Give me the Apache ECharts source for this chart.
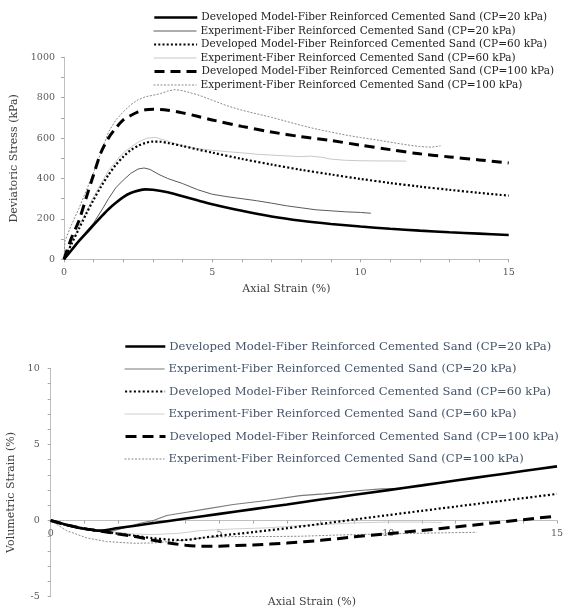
<!DOCTYPE html>
<html><head><meta charset="utf-8">
<script src="https://cdn.jsdelivr.net/npm/echarts@6/dist/echarts.min.js"></script>
<style>html,body{margin:0;padding:0;background:#fff}#c{width:564px;height:612px}</style>
</head><body><div id="c"></div>
<script>
// ---------- names ----------
const seriesNames = [
  'Developed Model-Fiber Reinforced Cemented Sand (CP=20 kPa)',
  'Experiment-Fiber Reinforced Cemented Sand (CP=20 kPa)',
  'Developed Model-Fiber Reinforced Cemented Sand (CP=60 kPa)',
  'Experiment-Fiber Reinforced Cemented Sand (CP=60 kPa)',
  'Developed Model-Fiber Reinforced Cemented Sand (CP=100 kPa)',
  'Experiment-Fiber Reinforced Cemented Sand (CP=100 kPa)'
];
const xAxisTitle = 'Axial Strain (%)';
const stressTitle = 'Deviatoric Stress (kPa)';
const volTitle = 'Volumetric Strain (%)';

// ---------- top chart: [axial strain %, deviatoric stress kPa] ----------
const stressModel20 = [[0,0],[0.25,45],[0.5,90],[0.75,130],[1,170],[1.25,210],[1.5,248],[1.75,280],[2,308],[2.25,328],[2.5,340],[2.75,346],[3,344],[3.5,332],[4,312],[4.5,292],[5,273],[6,240],[7,212],[8,191],[9,175],[10,162],[11,151],[12,142],[13,134],[14,127],[15,120]];
const stressExp20 = [[0,0],[0.5,95],[1,180],[1.3,250],[1.5,300],[1.75,355],[2,392],[2.25,425],[2.5,447],[2.7,452],[2.9,445],[3.2,420],[3.5,400],[4,375],[4.5,345],[5,322],[5.5,310],[6,300],[6.5,290],[7,278],[7.5,265],[8,255],[8.5,245],[9,240],[9.5,235],[10,232],[10.35,228]];
const stressModel60 = [[0,0],[0.25,75],[0.5,150],[0.75,225],[1,295],[1.25,360],[1.5,418],[1.75,468],[2,508],[2.25,540],[2.5,562],[2.75,576],[3,583],[3.25,582],[3.5,576],[4,561],[4.5,544],[5,528],[6,497],[7,469],[8,443],[9,420],[10,398],[11,378],[12,360],[13,344],[14,329],[15,315]];
const stressExp60 = [[0,0],[0.5,160],[1,310],[1.5,440],[2,528],[2.5,580],[2.8,600],[3.1,603],[3.5,585],[4,560],[4.5,548],[5,540],[5.5,533],[6,527],[6.5,520],[7,516],[7.5,512],[8,508],[8.3,511],[8.7,505],[9,496],[9.5,490],[10,488],[10.5,487],[11,487],[11.55,486]];
const stressModel100 = [[0,0],[0.25,105],[0.5,190],[0.75,305],[1,420],[1.25,530],[1.5,600],[1.75,650],[2,690],[2.25,712],[2.5,730],[2.75,740],[3,743],[3.25,742],[3.5,738],[4,725],[4.5,708],[5,690],[6,658],[7,630],[8,607],[9,588],[10,565],[11,543],[12,522],[13,507],[14,492],[15,477]];
const stressExp100 = [[0,0],[0.03,90],[0.25,170],[0.5,250],[0.75,340],[1,430],[1.25,530],[1.5,630],[1.75,690],[2,730],[2.25,765],[2.5,790],[2.75,805],[3,812],[3.25,820],[3.5,833],[3.75,840],[4,835],[4.5,815],[5,788],[5.5,760],[6,738],[6.5,720],[7,703],[7.5,683],[8,663],[8.5,645],[9,630],[9.5,615],[10,603],[10.5,592],[11,580],[11.5,568],[12,558],[12.4,555],[12.7,562]];

// ---------- bottom chart: [axial strain %, volumetric strain %] ----------
const volModel20 = [[0,0],[0.25,-0.15],[0.5,-0.3],[0.75,-0.43],[1,-0.54],[1.25,-0.62],[1.45,-0.66],[2,-0.49],[3,-0.18],[4,0.13],[5,0.44],[6,0.75],[7,1.06],[8,1.38],[9,1.69],[10,2.0],[11,2.31],[12,2.63],[13,2.94],[14,3.25],[15,3.56]];
const volExp20 = [[0,0],[0.47,-0.33],[1.07,-0.61],[1.46,-0.72],[1.86,-0.66],[2.25,-0.44],[2.65,-0.18],[3.04,0],[3.44,0.33],[4.03,0.55],[4.62,0.77],[5.41,1.05],[6.4,1.32],[7.39,1.64],[8.1,1.75],[9.16,1.97],[9.8,2.08],[10.4,2.1]];
const volModel60 = [[0,0],[0.5,-0.3],[1,-0.53],[1.5,-0.7],[2,-0.86],[2.5,-1.0],[3,-1.15],[3.5,-1.25],[3.9,-1.28],[4.5,-1.13],[5,-0.99],[6,-0.76],[7,-0.5],[8,-0.22],[9,0.07],[10,0.36],[11,0.64],[12,0.92],[13,1.2],[14,1.47],[15,1.75]];
const volExp60 = [[0,0],[0.97,-0.55],[1.66,-0.7],[2.45,-0.88],[3.04,-0.92],[3.83,-0.83],[4.42,-0.66],[5.41,-0.55],[6.4,-0.48],[7.39,-0.33],[8.2,-0.25],[9,-0.15],[10,-0.1],[11,-0.1],[11.6,-0.12]];
const volModel100 = [[0,0],[0.5,-0.3],[1,-0.53],[1.5,-0.7],[2,-0.88],[2.5,-1.05],[3,-1.27],[3.5,-1.47],[4,-1.62],[4.5,-1.68],[5,-1.68],[5.5,-1.64],[6,-1.6],[7,-1.48],[8,-1.3],[9,-1.07],[10,-0.86],[11,-0.65],[12,-0.42],[13,-0.18],[14,0.06],[15,0.3]];
const volExp100 = [[0,0],[0.47,-0.66],[1.07,-1.14],[1.66,-1.38],[2.45,-1.49],[3.04,-1.47],[3.83,-1.32],[4.62,-1.1],[5.41,-1.05],[6.4,-1.05],[7.39,-1.03],[8.5,-0.95],[9.76,-0.88],[11,-0.83],[12.62,-0.77]];

const stressData = [stressModel20, stressExp20, stressModel60, stressExp60, stressModel100, stressExp100];
const volData = [volModel20, volExp20, volModel60, volExp60, volModel100, volExp100];

// ---------- styles ----------
const FONT = 'DejaVu Serif';
const lineStylesTop = [
  {color:'#000', width:2.6, type:'solid'},
  {color:'#5a5a5a', width:1, type:'solid'},
  {color:'#000', width:2.2, type:[2,2.2]},
  {color:'#c8c8c8', width:1, type:'solid'},
  {color:'#000', width:3, type:[10,6]},
  {color:'#8a8a8a', width:1, type:[2,1.5]}
];
const lineStylesBot = [
  {color:'#000', width:2.6, type:'solid'},
  {color:'#7a7a7a', width:1.1, type:'solid'},
  {color:'#000', width:2.2, type:[2,2.4]},
  {color:'#cfcfcf', width:1, type:'solid'},
  {color:'#000', width:3, type:[11,6]},
  {color:'#8a8a8a', width:1, type:[2,1.5]}
];
const zOrder = [6,2,5,1,4,3];

function legends(styles, left, itemW, firstCenter, step, fontSize, color, rowH) {
  return seriesNames.map((n, i) => ({
    data: [n], selectedMode: false, orient: 'horizontal',
    left: left, top: firstCenter + i * step - rowH / 2,
    padding: 0, itemGap: 0, itemWidth: itemW, itemHeight: rowH,
    lineStyle: {color: styles[i].color, width: styles[i].width, type: styles[i].type},
    itemStyle: {color: 'rgba(0,0,0,0)', borderColor: 'rgba(0,0,0,0)', borderWidth: 0, opacity: 0},
    textStyle: {fontFamily: FONT, fontSize: fontSize, color: color, lineHeight: rowH, padding: [0,0,0,-1]}
  }));
}

const axisLineStyle = {lineStyle: {color: '#bfbfbf', width: 1}};
const tickStyle = {show: true, length: 3, lineStyle: {color: '#a6a6a6'}};
const labelStyle = {fontFamily: FONT, fontSize: 9.5, color: '#595959', formatter: v => String(v)};
const nameStyle = {fontFamily: FONT, fontSize: 11, color: '#404040'};

// bottom x-axis sits on the zero line of the volumetric axis
const volMin = -5, volMax = 10, botGridH = 228.4;
const botAxisOffset = -botGridH * (0 - volMin) / (volMax - volMin);

const option = {
  animation: false,
  backgroundColor: '#fff',
  grid: [
    {left: 64, top: 57.3, width: 444.7, height: 202, outerBoundsMode: 'none', containLabel: false},
    {left: 50.7, top: 368.3, width: 506.3, height: botGridH, outerBoundsMode: 'none', containLabel: false}
  ],
  legend: [
    ...legends(lineStylesTop, 153, 43, 17.5, 13.5, 10.5, '#222', 12),
    ...legends(lineStylesBot, 124, 40, 346.5, 22.5, 11.6, '#44546a', 14)
  ],
  xAxis: [
    {gridIndex: 0, type: 'value', min: 0, max: 15, interval: 5,
     axisLine: axisLineStyle, axisTick: tickStyle,
     minorTick: {show: true, splitNumber: 5, length: 3, lineStyle: {color: '#a6a6a6'}},
     splitLine: {show: false}, minorSplitLine: {show: false},
     axisLabel: Object.assign({margin: 8}, labelStyle),
     name: xAxisTitle, nameLocation: 'middle', nameGap: 24, nameTextStyle: nameStyle},
    {gridIndex: 1, type: 'value', min: 0, max: 15, interval: 5, position: 'bottom',
     offset: botAxisOffset,
     axisLine: Object.assign({onZero: false}, axisLineStyle), axisTick: tickStyle,
     minorTick: {show: true, splitNumber: 5, length: 3, lineStyle: {color: '#a6a6a6'}},
     splitLine: {show: false}, minorSplitLine: {show: false},
     axisLabel: Object.assign({margin: 8}, labelStyle),
     name: xAxisTitle, nameLocation: 'middle', nameGap: 76,
     nameTextStyle: Object.assign({padding: [0,0,0,16]}, nameStyle)}
  ],
  yAxis: [
    {gridIndex: 0, type: 'value', min: 0, max: 1000, interval: 200,
     axisLine: {show: true, lineStyle: {color: '#bfbfbf'}}, axisTick: tickStyle,
     minorTick: {show: true, splitNumber: 2, length: 3, lineStyle: {color: '#a6a6a6'}},
     splitLine: {show: false}, minorSplitLine: {show: false},
     axisLabel: Object.assign({margin: 9}, labelStyle),
     name: stressTitle, nameLocation: 'middle', nameGap: 40, nameTextStyle: nameStyle},
    {gridIndex: 1, type: 'value', min: volMin, max: volMax, interval: 5,
     axisLine: {show: true, onZero: false, lineStyle: {color: '#bfbfbf'}}, axisTick: tickStyle,
     minorTick: {show: true, splitNumber: 5, length: 3, lineStyle: {color: '#a6a6a6'}},
     splitLine: {show: false}, minorSplitLine: {show: false},
     axisLabel: Object.assign({margin: 11}, labelStyle),
     name: volTitle, nameLocation: 'middle', nameGap: 33,
     nameTextStyle: Object.assign({padding: [0,20,0,0]}, nameStyle)}
  ],
  series: [
    ...stressData.map((d, i) => ({
      type: 'line', name: seriesNames[i], xAxisIndex: 0, yAxisIndex: 0, data: d,
      symbol: 'none', smooth: i % 2 === 0 ? 0.3 : false, z: zOrder[i],
      lineStyle: lineStylesTop[i], itemStyle: {color: lineStylesTop[i].color}
    })),
    ...volData.map((d, i) => ({
      type: 'line', name: seriesNames[i], xAxisIndex: 1, yAxisIndex: 1, data: d,
      symbol: 'none', smooth: i % 2 === 0 ? 0.3 : false, z: zOrder[i],
      lineStyle: lineStylesBot[i], itemStyle: {color: lineStylesBot[i].color}
    }))
  ]
};
const chart = echarts.init(document.getElementById('c'), null, {renderer: 'canvas'});
chart.setOption(option);
</script>
</body></html>
